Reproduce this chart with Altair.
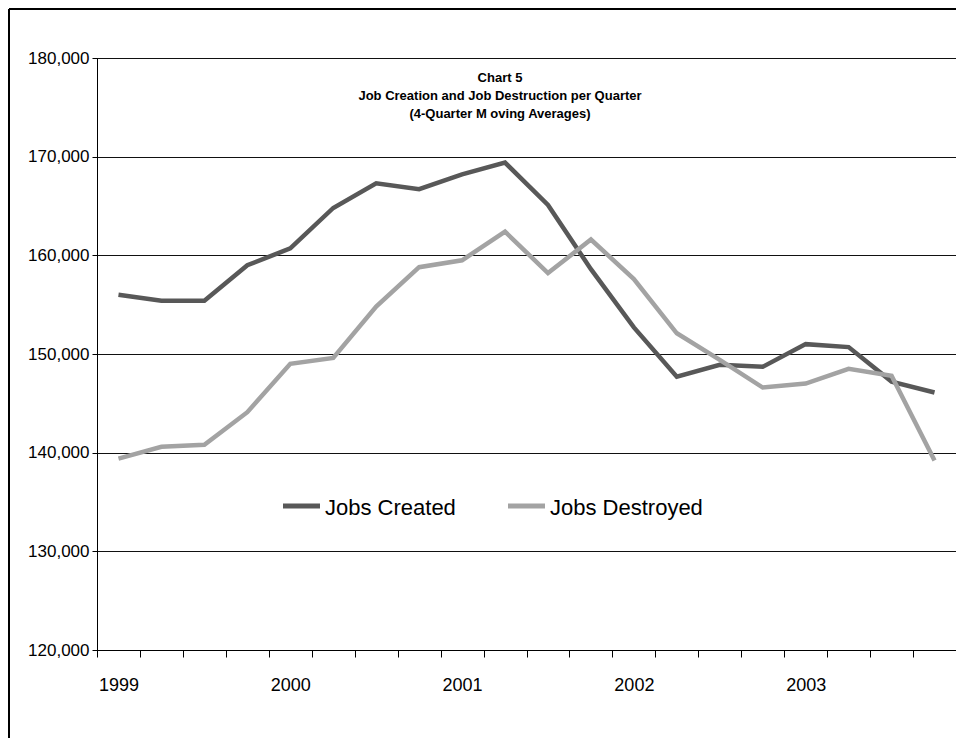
import altair as alt
import pandas as pd

years = ["1999", "2000", "2001", "2002", "2003"]
quarters = [f"{y} Q{q}" for y in years for q in [1, 2, 3, 4]]

jobs_created = [156000, 155400, 155400, 159000,
                160700, 164800, 167300, 166700,
                168200, 169400, 165100, 158600,
                152700, 147700, 148900, 148700,
                151000, 150700, 147200, 146100]

jobs_destroyed = [139400, 140600, 140800, 144100,
                  149000, 149600, 154800, 158800,
                  159500, 162400, 158200, 161600,
                  157600, 152100, 149400, 146600,
                  147000, 148500, 147800, 139200]

series_names = ["Jobs Created", "Jobs Destroyed"]
series_colors = ["#585858", "#a3a3a3"]
y_ticks = [120000, 130000, 140000, 150000, 160000, 170000, 180000]
title_lines = "Chart 5\nJob Creation and Job Destruction per Quarter\n(4-Quarter M oving Averages)"

FONT = "Liberation Sans Narrow, Arial Narrow, Liberation Sans, Arial, sans-serif"

rows = []
for i, (q, c, d) in enumerate(zip(quarters, jobs_created, jobs_destroyed)):
    rows.append({"idx": i, "quarter": q, "series": series_names[0], "jobs": c})
    rows.append({"idx": i, "quarter": q, "series": series_names[1], "jobs": d})
df = pd.DataFrame(rows)

n = len(quarters)
# ticks at the quarter boundaries, labels at the first quarter of each year
x_vals = [k - 0.5 for k in range(n + 1)] + [4 * k for k in range(len(years))]
year_arr = "[" + ",".join(f"'{y}'" for y in years) + "]"
label_expr = f"datum.value % 4 == 0 ? {year_arr}[datum.value / 4] : ''"

lines = alt.Chart(df).mark_line(strokeWidth=4.5).encode(
    x=alt.X("idx:Q", title=None,
            scale=alt.Scale(domain=[-0.5, n - 0.5], nice=False, zero=False),
            axis=alt.Axis(values=x_vals, labelExpr=label_expr, labelOverlap=False,
                          labelAngle=0, tickColor="black",
                          tickSize={"condition": {"test": "datum.value % 1 != 0", "value": 7}, "value": 0},
                          domainColor="black", labelFont=FONT, labelFontSize=18,
                          labelColor="black", labelPadding=26, grid=False)),
    y=alt.Y("jobs:Q", title=None,
            scale=alt.Scale(domain=[120000, 180000], nice=False, zero=False),
            axis=alt.Axis(values=y_ticks, format=",d", tickSize=5, tickColor="black",
                          domainColor="black", labelFont=FONT, labelFontSize=17,
                          labelColor="black", labelPadding=3, grid=True,
                          gridColor="#111111", gridWidth=1)),
    color=alt.Color("series:N", sort=series_names,
                    scale=alt.Scale(domain=series_names, range=series_colors),
                    legend=None),
    detail="series:N",
    order="idx:Q",
)

# legend drawn as a small key
leg_df = pd.DataFrame({"series": series_names, "x0": [186, 411]})
leg_sym = alt.Chart(leg_df).mark_rule(strokeWidth=5).encode(
    x=alt.X("x0:Q", scale=None), x2=alt.X2("x1:Q"),
    y=alt.value(448),
    color=alt.Color("series:N", scale=alt.Scale(domain=series_names, range=series_colors), legend=None),
).transform_calculate(x1="datum.x0 + 37")
leg_txt = alt.Chart(leg_df).mark_text(
    font=FONT, fontSize=22, color="black", align="left", baseline="middle"
).encode(x=alt.X("xt:Q", scale=None), y=alt.value(450), text="series:N").transform_calculate(
    xt="datum.x0 + 42")

title = alt.Chart(pd.DataFrame({"t": [title_lines]})).mark_text(
    font=FONT, fontSize=13, fontWeight="bold", color="black",
    lineBreak="\n", lineHeight=18, baseline="top", align="center"
).encode(x=alt.value(403), y=alt.value(14), text="t:N")

# outer frame: top and left edges (right and bottom lie outside the picture)
frame_df = pd.DataFrame({"f": [0]})
frame_top = alt.Chart(frame_df).mark_rule(color="black", strokeWidth=2, clip=False).encode(
    x=alt.value(-88), x2=alt.value(870), y=alt.value(-49))
frame_left = alt.Chart(frame_df).mark_rule(color="black", strokeWidth=2, clip=False).encode(
    x=alt.value(-88), y=alt.value(-49), y2=alt.value(700))

chart = alt.layer(frame_top, frame_left, lines, leg_sym, leg_txt, title).properties(
    width=859, height=592,
    autosize=alt.AutoSizeParams(type="none"),
    padding={"left": 89, "top": 50, "right": 0, "bottom": 88},
).configure_view(stroke="black", strokeWidth=1)

chart.save("out.html", embed_options={"renderer": "svg", "actions": False})
